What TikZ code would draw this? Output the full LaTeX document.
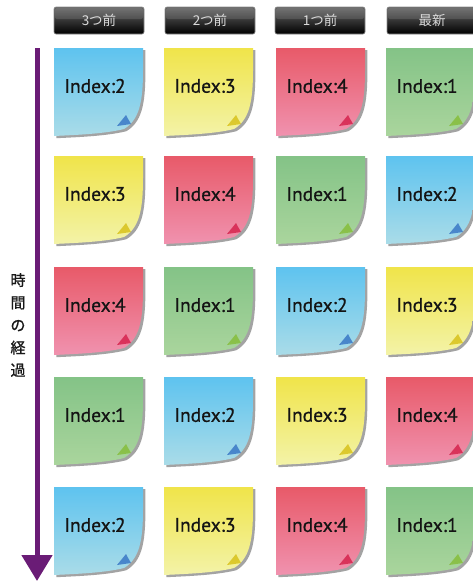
\documentclass[tikz,border=0pt]{standalone}
\usepackage{fontspec}
\setmainfont{PT Sans}
\newfontfamily\jpfont{Noto Sans CJK JP}
\newfontfamily\jplabelfont[FakeBold=1.2]{Noto Sans CJK JP}
\newfontfamily\idxfont[FakeBold=0.7]{PT Sans}
\usetikzlibrary{arrows.meta}

% sticky note colours: index 1 green, 2 blue, 3 yellow, 4 red
\definecolor{noteItop}{HTML}{84C387}
\definecolor{noteIbot}{HTML}{AAD59D}
\definecolor{noteIfold}{HTML}{86BE3C}
\definecolor{noteIItop}{HTML}{5EC3EF}
\definecolor{noteIIbot}{HTML}{AADCE8}
\definecolor{noteIIfold}{HTML}{3A78C6}
\definecolor{noteIIItop}{HTML}{F0E44A}
\definecolor{noteIIIbot}{HTML}{F3F3A8}
\definecolor{noteIIIfold}{HTML}{D8C21C}
\definecolor{noteIVtop}{HTML}{E85A69}
\definecolor{noteIVbot}{HTML}{F092AF}
\definecolor{noteIVfold}{HTML}{D6244E}
\definecolor{timeline}{HTML}{6A1C76}

\tikzset{
  notetext/.style={font=\idxfont\fontsize{19.5}{21}\selectfont, text=black!92, inner sep=0pt},
  hdr/.style={minimum width=90pt, minimum height=27pt, inner sep=0pt,
    rounded corners=2pt, draw=black!45, line width=0.6pt,
    top color=black!62, bottom color=black, middle color=black!80,
    text=white!85!black, font=\jpfont\fontsize{13.5}{15}\selectfont},
  vlabel/.style={align=center, inner sep=0pt, text=black!90,
    font=\jplabelfont\fontsize{15}{22.5}\selectfont},
}

% outline of one note (local units, top-left at origin)
\def\noteoutline{(0,0) -- (89,0) -- (89,22)
  .. controls (89,55) and (85,72) .. (70,81)
  .. controls (50,86) and (20,87) .. (0,88) -- cycle}

% #1 node name, #2 colour key, #3 index, #4 top-left corner
\newcommand\stickynote[4]{%
  \begin{scope}[shift={#4}]
    \fill[black!45, opacity=0.8, shift={(2.4,2.2)}] \noteoutline;
    \shade[top color=note#2top, bottom color=note#2bot] \noteoutline;
    \fill[note#2fold, opacity=0.85] (63,78) -- (72,67) .. controls (74,71) and (76,74) .. (77,76) -- cycle;
    \node[notetext] (#1) at (41,38) {Index:#3};
  \end{scope}}

\begin{document}
\begin{tikzpicture}[x=1pt, y=-1pt]
  \useasboundingbox (0,0) rectangle (472,581);

  % column headers
  \node[hdr] (h1) at (99,20.5) {3つ前};
  \node[hdr] (h2) at (210,20.5) {2つ前};
  \node[hdr] (h3) at (320,20.5) {1つ前};
  \node[hdr] (h4) at (432,20.5) {最新};
  % gloss on the upper half of each header
  \foreach \hx in {99,210,320,432}
    \fill[white, opacity=0.12, rounded corners=2pt] (\hx-44,8) rectangle (\hx+44,19);

  % time axis
  \coordinate (tstart) at (37,48);
  \coordinate (tend) at (37,581);
  \draw[timeline, line width=5pt,
    -{Triangle[width=30pt, length=26pt]}] (tstart) -- (tend);
  \node[vlabel] (tlabel) at (18,325) {時\\間\\の\\経\\過};

  % grid of notes
  \foreach \r/\ry in {1/48,2/156,3/267,4/377,5/487}{
    \foreach \c/\cx in {1/54,2/164,3/276,4/386}{
      \pgfmathtruncatemacro\idx{mod(\r+\c-1,4)+1}
      \ifcase\idx\or
        \stickynote{n\r\c}{I}{1}{(\cx,\ry)}\or
        \stickynote{n\r\c}{II}{2}{(\cx,\ry)}\or
        \stickynote{n\r\c}{III}{3}{(\cx,\ry)}\or
        \stickynote{n\r\c}{IV}{4}{(\cx,\ry)}\fi
    }
  }
\end{tikzpicture}
\end{document}
